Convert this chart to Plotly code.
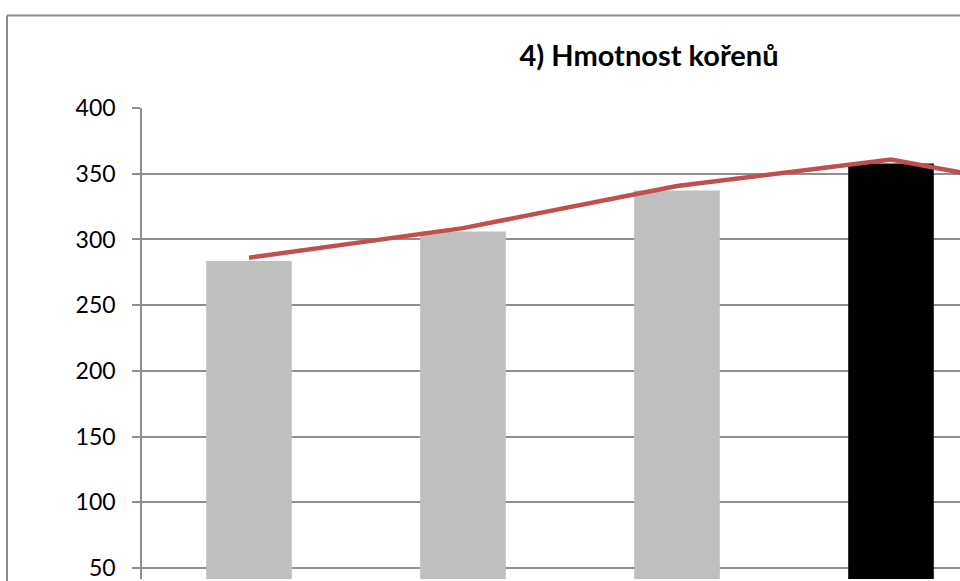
import plotly.graph_objects as go

categories = ["1", "2", "3", "4", "5"]
bar_values = [283.6, 306.0, 337.3, 357.8]
bar_colors = ["#BFBFBF", "#BFBFBF", "#BFBFBF", "#000000"]
line_values = [286.1, 308.6, 340.6, 360.8, 330.5]
y_ticks = [50, 100, 150, 200, 250, 300, 350, 400]
title_text = "<b>4) Hmotnost kořenů</b>"

W, H = 960, 581
L, T = 142, 108
px_per_unit = 1.32
cat_px = 214

fig = go.Figure()
fig.add_trace(go.Bar(x=categories[:len(bar_values)], y=bar_values,
                     marker=dict(color=bar_colors, line=dict(width=0)),
                     width=0.4, showlegend=False, hoverinfo="skip"))
fig.add_trace(go.Scatter(x=categories, y=line_values, mode="lines",
                         line=dict(color="#C0504D", width=4.5),
                         showlegend=False, cliponaxis=True))

plot_h = H - T
y_min = 400 - plot_h / px_per_unit
x_max = -0.5 + (W - L) / cat_px

grid_col = "#8E8E8E"
fig.update_layout(
    width=W, height=H,
    margin=dict(l=L, r=0, t=T, b=0, pad=0),
    paper_bgcolor="white", plot_bgcolor="white",
    font=dict(family="Lato, Open Sans, sans-serif", color="#000000"),
    title=dict(text=title_text, xref="container", yref="container",
               x=649 / W, y=1 - 56 / H, xanchor="center", yanchor="middle",
               font=dict(size=29, family="Lato, Open Sans, sans-serif", color="#000000")),
    xaxis=dict(type="category", range=[-0.5, x_max], showgrid=False,
               showticklabels=False, ticks="", showline=False, zeroline=False,
               fixedrange=True),
    yaxis=dict(range=[y_min, 400], tickvals=y_ticks, showgrid=True,
               gridcolor=grid_col, gridwidth=1.6, showline=True, linecolor=grid_col,
               linewidth=1.6, ticks="outside", ticklen=8, tickcolor=grid_col,
               tickwidth=1.6, tickfont=dict(size=23), zeroline=False,
               ticklabelstandoff=12, ticklabeloverflow="allow"),
    bargap=0.6,
)

# chart area border (left and top edges visible)
bx = (7 - L) / (W - L)
by = 1 + (T - 15) / plot_h
fig.add_shape(type="line", xref="paper", yref="paper", x0=bx, x1=bx, y0=-0.1, y1=by,
              line=dict(color="#8C8C8C", width=2))
fig.add_shape(type="line", xref="paper", yref="paper", x0=bx, x1=1.1, y0=by, y1=by,
              line=dict(color="#8C8C8C", width=2))

fig.write_html("out.html", config={"displayModeBar": False},
               post_script="document.body.style.margin='0';document.body.style.overflow='hidden';")
